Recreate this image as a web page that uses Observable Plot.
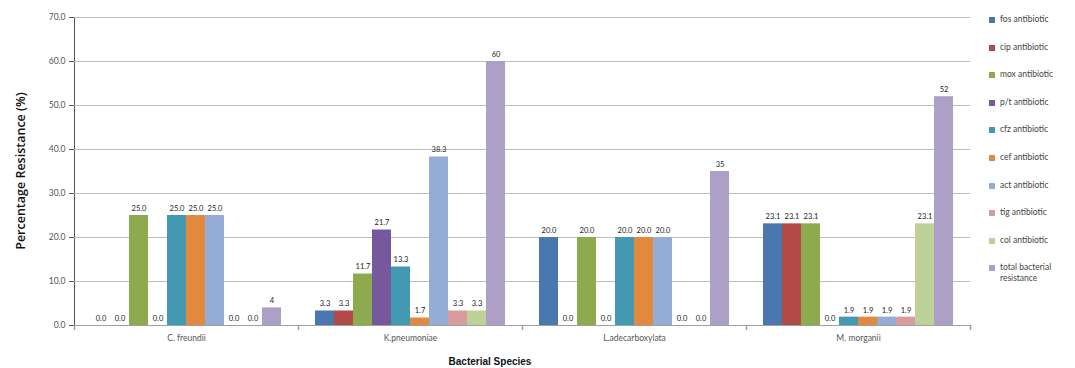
<!DOCTYPE html>
<html>
<head>
<meta charset="utf-8">
<script src="https://cdn.jsdelivr.net/npm/d3@7"></script>
<script src="https://cdn.jsdelivr.net/npm/@observablehq/plot@0.6"></script>
<style>
  body { margin: 0; background: #fff; }
  #wrap { position: relative; width: 1075px; height: 368px; font-family: Lato, "Open Sans", sans-serif; }
  #chart { position: absolute; left: 0; top: 0; }
  #ytitle { position: absolute; left: 20px; top: 171px; transform: translate(-50%, -50%) rotate(-90deg); font-size: 12.5px; color: #111; white-space: nowrap; font-family: "Open Sans", sans-serif; font-weight: 600; }
  #xtitle { position: absolute; left: 490px; top: 361px; transform: translate(-50%, -50%); font-size: 10px; font-weight: bold; color: #111; font-family: "Liberation Sans", Arial, sans-serif; }
  #legend { position: absolute; left: 989px; top: 14px; font-size: 8.5px; color: #444; }
  .li { position: relative; height: 27.6px; padding-left: 11px; line-height: 11px; width: 80px; }
  .sw { position: absolute; left: 0; top: 3px; width: 6px; height: 6px; }
</style>
</head>
<body>
<div id="wrap">
  <div id="chart"></div>
  <div id="ytitle">Percentage Resistance (%)</div>
  <div id="xtitle">Bacterial Species</div>
  <div id="legend"></div>
</div>
<script>
const species = ["C. freundii", "K.pneumoniae", "L.adecarboxylata", "M. morganii"];
const antibiotics = ["fos antibiotic", "cip antibiotic", "mox antibiotic", "p/t antibiotic", "cfz antibiotic",
  "cef antibiotic", "act antibiotic", "tig antibiotic", "col antibiotic", "total bacterial resistance"];
const colors = ["#4A77AE", "#B34A47", "#8DAA4E", "#76589C", "#4399B2", "#E0893F", "#95ACD4", "#D79C9B", "#BDD199", "#AE9FC6"];

// values per antibiotic, in species order
const fos   = [0, 3.3, 20, 23.1];
const cip   = [0, 3.3, 0, 23.1];
const mox   = [25, 11.7, 20, 23.1];
const pt    = [0, 21.7, 0, 0];
const cfz   = [25, 13.3, 20, 1.9];
const cef   = [25, 1.7, 20, 1.9];
const act   = [25, 38.3, 20, 1.9];
const tig   = [0, 3.3, 0, 1.9];
const col   = [0, 3.3, 0, 23.1];
const total = [4, 60, 35, 52];

const series = [fos, cip, mox, pt, cfz, cef, act, tig, col, total];
const data = [];
species.forEach((s, i) => {
  antibiotics.forEach((a, j) => {
    data.push({species: s, antibiotic: a, value: series[j][i], isTotal: j === 9});
  });
});

const spikeShape = {
  draw(context, l) { context.moveTo(0, 0); context.lineTo(0, -l); }
};

const chart = Plot.plot({
  width: 975,
  height: 368,
  marginLeft: 73,
  marginRight: 5,
  marginTop: 17,
  marginBottom: 43,
  style: {fontFamily: "Lato, 'Open Sans', sans-serif", fontSize: "8.5px", color: "#555", background: "transparent"},
  fx: {domain: species, padding: 0, label: null, tickSize: 0, tickPadding: 9, axis: "bottom"},
  x: {domain: antibiotics, axis: null, paddingInner: 0, paddingOuter: 0.85},
  y: {domain: [0, 70], ticks: d3.range(0, 71, 10), tickFormat: ".1f", label: null, tickSize: 5, tickPadding: 4, line: true},
  color: {domain: antibiotics, range: colors},
  marks: [
    Plot.ruleY(d3.range(10, 71, 10), {stroke: "#bdbdbd", strokeWidth: 1}),
    Plot.barY(data, {fx: "species", x: "antibiotic", y: "value", fill: "antibiotic", inset: 0}),
    Plot.ruleY([0], {stroke: "#a0a0a0"}),
    Plot.vector(species, {fx: d => d, frameAnchor: "bottom-left", length: 4, rotate: 180, anchor: "start", shape: spikeShape, stroke: "#a0a0a0"}),
    Plot.vector(species.slice(-1), {fx: d => d, frameAnchor: "bottom-right", length: 4, rotate: 180, anchor: "start", shape: spikeShape, stroke: "#a0a0a0"}),
    Plot.text(data, {fx: "species", x: "antibiotic", y: "value",
      text: d => d.isTotal ? d3.format("d")(d.value) : d3.format(".1f")(d.value),
      dy: -7, fill: "#222", fontSize: 7.5})
  ]
});
document.getElementById("chart").appendChild(chart);

const legend = document.getElementById("legend");
antibiotics.forEach((a, j) => {
  const item = document.createElement("div");
  item.className = "li";
  const sw = document.createElement("span");
  sw.className = "sw";
  sw.style.background = colors[j];
  item.appendChild(sw);
  item.appendChild(document.createTextNode(a));
  legend.appendChild(item);
});
</script>
</body>
</html>
